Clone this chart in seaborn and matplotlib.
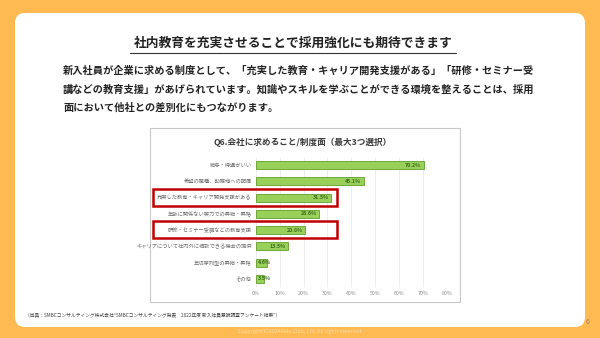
import matplotlib
matplotlib.use("Agg")
import matplotlib.pyplot as plt
import seaborn as sns
import pandas as pd
from matplotlib.patches import FancyBboxPatch, Rectangle
from matplotlib.lines import Line2D

categories = [
    "給与・待遇がいい",
    "希望の職種、勤務地への配属",
    "充実した教育・キャリア開発支援がある",
    "年齢に関係ない実力での昇給・昇格",
    "研修・セミナー受講などの教育支援",
    "キャリアについて社内外に相談できる機会の提供",
    "年功序列型の昇給・昇格",
    "その他",
]
values = [70.2, 45.1, 31.5, 26.6, 20.8, 13.5, 4.6, 3.5]
xticks = [0, 10, 20, 30, 40, 50, 60, 70, 80]
highlighted = [2, 4]

chart_title = "Q6.会社に求めること/制度面（最大3つ選択）"
heading = "社内教育を充実させることで採用強化にも期待できます"
paragraph = [
    "新入社員が企業に求める制度として、「充実した教育・キャリア開発支援がある」「研修・セミナー受",
    "講などの教育支援」があげられています。知識やスキルを学ぶことができる環境を整えることは、採用",
    "面において他社との差別化にもつながります。",
]
source = "（出典：SMBCコンサルティング株式会社\u201cSMBCコンサルティング発表　2022年度 新入社員意識調査アンケート結果\u201d）"
copyright_text = "Copyright(C)2024Relo Club, Ltd. All rights reserved."

sns.set_theme(style="white")
plt.rcParams["font.family"] = ["Noto Sans CJK JP", "DejaVu Sans"]

W, H = 600, 338
fig = plt.figure(figsize=(6, 3.38), dpi=100, facecolor="#FFBA52")

def fx(px):
    return px / W

def fy(py):
    return 1 - py / H

# white rounded panel
panel = FancyBboxPatch((0.15 + 0.1, 0.11 + 0.1), 5.70 - 0.2, 3.14 - 0.2,
                       boxstyle="round,pad=0.1", transform=fig.dpi_scale_trans,
                       facecolor="white", edgecolor="none", zorder=0)
fig.patches.append(panel)

# heading with underline
fig.text(fx(293), fy(43), heading, ha="center", va="center", fontsize=9.2,
         fontweight="bold", color="#222222")
fig.add_artist(Line2D([fx(130), fx(456)], [fy(52.5), fy(52.5)], color="#333333", lw=0.8))

for i, line in enumerate(paragraph):
    fig.text(fx(63), fy(71 + i * 18.3), line, ha="left", va="center", fontsize=7.35,
             fontweight="bold", color="#222222")

# chart frame
fig.patches.append(Rectangle((fx(150), fy(302)), fx(310), 174 / H, transform=fig.transFigure,
                             facecolor="white", edgecolor="#C8C8C8", lw=0.8, zorder=1))
fig.text(fx(303), fy(142), chart_title, ha="center", va="center", fontsize=6.2,
         fontweight="bold", color="#3A3A3A", zorder=3)

ax = fig.add_axes([fx(255.7), fy(287.1), fx(447) - fx(255.7), 130.2 / H], zorder=2)
ax.set_facecolor("none")
df = pd.DataFrame({"category": categories, "value": values})
sns.barplot(data=df, x="value", y="category", orient="h", color="#98D05A",
            edgecolor="#5E9E2A", linewidth=0.6, width=0.5, saturation=1, ax=ax)
ax.set_xlim(0, 80)
ax.set_ylim(len(categories) - 0.5, -0.5)
ax.set_xticks(xticks)
ax.set_xticklabels([f"{t}%" for t in xticks], fontsize=3.8, color="#8A8A8A")
ax.set_yticklabels(categories, fontsize=3.8, color="#6E6E6E")
ax.tick_params(axis="both", length=0, pad=3)
ax.set_xlabel("")
ax.set_ylabel("")
ax.grid(axis="x", color="#E6E6E6", lw=0.5)
ax.set_axisbelow(True)
for s in ax.spines.values():
    s.set_visible(False)

for i, v in enumerate(values):
    if v >= 10:
        ax.text(v - 1.0, i, f"{v}%", ha="right", va="center", fontsize=3.8,
                color="#3D6E1E", fontweight="bold")
    else:
        ax.text(0.8, i, f"{v}%", ha="left", va="center", fontsize=3.8,
                color="#3D6E1E", fontweight="bold")

# red highlight boxes
for idx in highlighted:
    yc = 165 + idx * 16.3 - 0.3
    fig.patches.append(Rectangle((fx(153), fy(yc + 8.5)), fx(337) - fx(153), 17 / H,
                                 transform=fig.transFigure, facecolor="none",
                                 edgecolor="#C00000", lw=1.8, zorder=4))

fig.text(fx(25), fy(315), source, ha="left", va="center", fontsize=3.4, color="#444444")
fig.text(0.5, fy(331), copyright_text, ha="center", va="center", fontsize=3.8, color="#F7DDB5")
fig.text(fx(588), fy(322), "6", ha="center", va="center", fontsize=5, color="#A08660")

fig.savefig("out.png", dpi=100, facecolor=fig.get_facecolor())
